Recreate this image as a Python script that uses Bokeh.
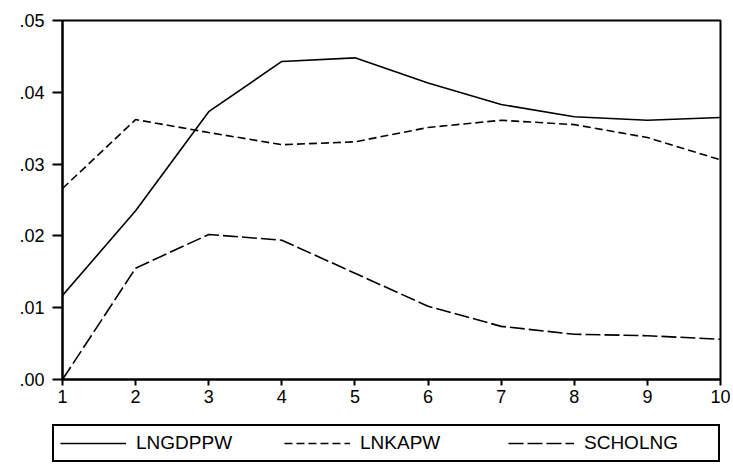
from bokeh.plotting import figure
from bokeh.models import Legend, LegendItem, FixedTicker, Range1d
from bokeh.layouts import column
from bokeh.embed import file_html
from bokeh.resources import INLINE

periods = [1, 2, 3, 4, 5, 6, 7, 8, 9, 10]
lngdppw = [0.0117, 0.0235, 0.0373, 0.0443, 0.0448, 0.0413, 0.0383, 0.0366, 0.0361, 0.0365]
lnkapw = [0.0266, 0.0362, 0.0344, 0.0327, 0.0331, 0.0351, 0.0361, 0.0355, 0.0337, 0.0306]
scholng = [0.0000, 0.0155, 0.0202, 0.0194, 0.0148, 0.0102, 0.0074, 0.0063, 0.0061, 0.0056]
series_names = ["LNGDPPW", "LNKAPW", "SCHOLNG"]
y_ticks = [0.0, 0.01, 0.02, 0.03, 0.04, 0.05]
y_tick_labels = [".00", ".01", ".02", ".03", ".04", ".05"]

FONT = "Liberation Sans"
dashes = ["solid", "8 4", "15 4"]
series = [lngdppw, lnkapw, scholng]

p = figure(width=730, height=410, output_backend="svg", toolbar_location=None,
           x_range=Range1d(1, 10), y_range=Range1d(0, 0.05))
p.min_border_left = 62
p.min_border_top = 20
p.min_border_right = 10
p.min_border_bottom = 31
p.background_fill_color = "white"
p.border_fill_color = "white"
p.outline_line_color = "black"
p.outline_line_width = 2
p.grid.visible = False
p.frame_align = False

p.xaxis.ticker = FixedTicker(ticks=periods)
p.yaxis.ticker = FixedTicker(ticks=y_ticks)
p.yaxis.major_label_overrides = {t: l for t, l in zip(y_ticks, y_tick_labels)}
for ax in (p.xaxis, p.yaxis):
    ax.axis_line_color = "black"
    ax.axis_line_width = 2
    ax.major_tick_line_color = "black"
    ax.major_tick_line_width = 2
    ax.major_tick_in = 0
    ax.minor_tick_line_color = None
    ax.major_label_text_font = FONT
    ax.major_label_text_font_size = "18px"
    ax.major_label_text_color = "black"
p.yaxis.major_tick_out = 10
p.yaxis.major_label_standoff = 8
p.xaxis.major_tick_out = 6
p.xaxis.major_label_standoff = 4

for ys, d in zip(series, dashes):
    p.line(periods, ys, line_color="black", line_width=1.6, line_dash=d)

# legend strip below the chart (its own lines lie outside its visible range)
p2 = figure(width=730, height=54, output_backend="svg", toolbar_location=None,
            x_range=Range1d(-10, -9), y_range=Range1d(0, 1))
p2.min_border_left = 0
p2.min_border_right = 0
p2.min_border_top = 0
p2.min_border_bottom = 0
p2.axis.visible = False
p2.grid.visible = False
p2.outline_line_color = None
p2.background_fill_color = "white"
p2.border_fill_color = "white"
p2.frame_align = False

items = []
for name, ys, d in zip(series_names, series, dashes):
    r = p2.line(periods, ys, line_color="black", line_width=1.6, line_dash=d)
    items.append(LegendItem(label=name, renderers=[r]))

legend = Legend(items=items, location=(52, 2), orientation="horizontal")
legend.border_line_color = "black"
legend.border_line_alpha = 1.0
legend.border_line_width = 2
legend.background_fill_color = "white"
legend.background_fill_alpha = 1
legend.padding = 6
legend.spacing = 20
legend.margin = 0
legend.glyph_width = 66
legend.glyph_height = 20
legend.label_standoff = 10
legend.label_width = 128
legend.label_height = 20
legend.label_text_font = FONT
legend.label_text_font_size = "19px"
legend.label_text_color = "black"
p2.add_layout(legend)

open("out.html", "w").write(file_html(column(p, p2, spacing=0), INLINE))
